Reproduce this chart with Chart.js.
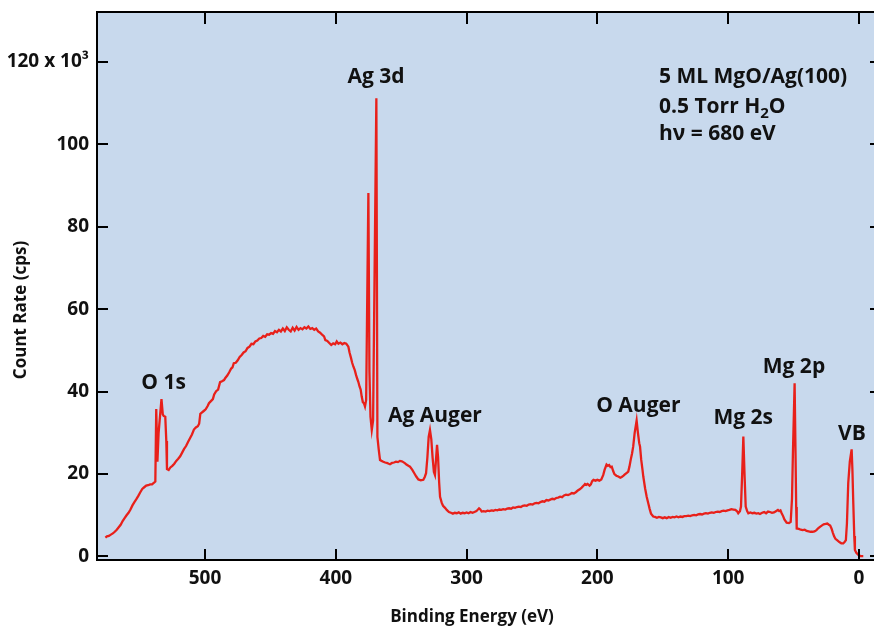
<!DOCTYPE html>
<html><head><meta charset="utf-8">
<script src="https://cdn.jsdelivr.net/npm/chart.js@4/dist/chart.umd.min.js"></script>
<style>html,body{margin:0;padding:0;background:#fff}#wrap{width:874px;height:628px;position:relative}</style>
</head><body><div id="wrap"><canvas id="c" width="874" height="628"></canvas></div>
<script>
// Binding energy (eV) and count rate (x10^3 cps)
const bindingEnergy = [
576.2,575,573.5,572,570.5,569,567.5,566,564.5,563,561.5,560,558.5,557,555.5,554,552.5,551,549.5,548,546.5,545,543.5,542,540.5,539,538,
537.3,536.4,535.5,533.3,532.3,531.6,530.4,529.6,529.1,527.8,
526.5,525,523.5,522,520.5,519,517.5,516,514.5,513,511.5,510,508.5,507,505.5,504.5,503.6,502.5,501,499.5,498,497,495.5,494,493,491.5,490,488.5,487,485.5,484.5,483,481.5,480,479,478,476.5,475,473.5,472,470.5,469,467.5,466,464.5,463,461.5,460,458.5,457,455.5,454,452.5,451,449.5,448,446.5,445,443.5,442,440.5,439,437.5,436,434.5,433,431.5,430,428.5,427,425.5,424,422.5,421,419.5,418,416.5,415,413.5,412,410.5,409,408,406.5,405,403.5,402,400.5,399.3,398,396.5,395,393.5,392,390.4,
389.5,388.5,387.5,386.6,385.5,384.5,383.5,382.8,381.8,381,380.2,379.3,378.5,377.7,376.8,375.1,374.3,373.5,372.5,371.5,369,368.2,367.2,366.2,
365,363.7,362.3,361,359.5,358.6,357,355.5,354,352.5,351,349.5,348.4,347,346,344.5,343.3,341.5,340,338.5,336.9,335,333.1,332,331,330,329,328,327,326,325,324.2,323.5,322.6,321.8,321,320.3,319,318,316.5,315.2,313.5,312,310.5,309,307.5,306,304.5,303,301.5,300,298.5,297,295.5,294,292.5,290.5,289.5,288.5,287,285.5,284,282.5,281,279.5,278,276.5,275,273.5,272,270.5,269,267.5,266,264.5,263,261.5,260,258.5,257,255.5,254,252.5,251,249.5,248,246.5,245,243.5,242,240.5,239,237.5,236,234.5,233,231.5,230,228.5,227,225.5,224,222.5,221,219.5,218,216.5,215,213.5,212,210.5,209.5,208.5,207.5,206,205,204,203,201.5,200,198.5,197,195.5,194.5,193,192,191,190,189,188,187,185.5,184,182.5,181.4,180,179,177.5,176.4,175.5,174.5,173.5,172.6,171.5,170,169,168,167.4,166.5,165.5,164.9,163.5,162.3,161,160,159,157.3,156,154.5,153,151.5,150,148.5,147,145.5,144,142.5,141,139.5,138,136.5,135,133.5,132,130.5,129,127.5,126,124.5,123,121.5,120,118.5,117,115.5,114,112.5,111,109.5,108,106.5,105,103.5,102,100.5,99,97.5,96,94.5,93,92.3,91,90.2,89.3,88.4,87.5,86.6,85.5,84.6,83,81.5,80,78.5,77,75.7,74,72.5,71,69.5,68,66.5,65,63.5,62,61,60,59.1,58,57,55.3,53.5,52.2,51.2,50.5,49.2,48.5,48,47.6,46,44.5,43,41.5,40,38.5,37,35.5,34,32.5,31,29.8,28.5,27,25.5,24.2,23,22,21,20,19,18,16.5,15,13.5,12,11,10,9.2,8.2,7,5.6,5,4.4,3.6,3.1,2,0.5,-1,-3.3
];
const countRate = [
4.6,4.9,5.0,5.3,5.6,6.0,6.5,7.1,7.7,8.6,9.3,10.0,10.6,11.4,12.4,13.2,13.9,14.7,15.6,16.4,16.8,17.2,17.3,17.5,17.5,17.9,18.2,
35.8,23.0,30.0,38.2,34.5,34.1,33.9,28.0,21.2,21.0,
21.6,22.0,22.5,23.2,23.7,24.3,25.2,26.1,26.8,27.8,28.7,29.6,30.8,31.3,31.6,32.2,34.6,34.9,35.3,35.7,36.5,37.2,37.7,38.2,39.3,40.1,40.5,42.3,42.5,42.8,43.3,43.9,44.7,45.6,45.9,46.9,47.0,47.6,48.4,48.9,49.5,49.8,50.6,50.9,51.6,51.5,52.2,52.4,52.9,53.0,53.5,53.3,53.9,53.8,54.2,54.0,54.7,54.4,55.0,54.6,55.3,54.7,55.6,55.0,54.6,55.5,54.8,55.7,55.0,55.4,55.1,55.6,55.3,55.8,55.2,55.4,55.0,55.3,54.6,54.3,53.8,53.4,52.5,52.3,51.8,51.3,51.7,51.5,52.2,51.6,51.9,51.5,51.8,51.6,50.9,
49.5,48.3,47.0,46.1,45.2,44.0,43.0,42.4,41.2,40.5,38.8,37.4,37.2,36.4,38.0,88.2,45.0,33.9,30.7,33.0,111.2,29.0,26.0,23.4,
23.2,23.0,22.8,22.7,22.5,22.4,22.7,22.8,23.0,22.9,23.2,23.1,22.9,22.6,22.3,22.0,21.8,21.0,20.2,19.4,18.7,18.5,18.6,19.3,20.2,24.0,29.0,30.7,28.5,24.0,20.5,19.8,23.0,27.1,24.0,18.0,14.5,13.0,12.3,11.8,11.3,10.8,10.6,10.4,10.6,10.5,10.7,10.4,10.6,10.5,10.7,10.5,10.8,10.6,10.8,11.0,11.7,11.4,10.9,11.0,10.9,11.1,11.0,11.2,11.1,11.3,11.2,11.4,11.3,11.5,11.4,11.6,11.7,11.6,11.9,11.8,12.0,12.1,12.0,12.3,12.4,12.3,12.6,12.7,12.6,12.9,13.0,12.9,13.2,13.4,13.3,13.7,13.6,13.8,14.0,13.9,14.2,14.3,14.5,14.4,14.8,15.0,14.9,15.1,15.4,15.3,15.6,16.0,16.3,16.7,17.2,17.6,17.4,17.6,17.2,17.5,18.3,18.6,18.4,18.6,18.4,18.7,19.8,21.0,22.3,22.0,22.2,21.7,21.8,20.8,20.0,19.6,19.4,19.1,19.3,19.6,19.9,20.3,20.6,21.8,23.5,25.0,26.7,30.0,33.0,30.0,27.5,26.7,23.5,21.0,19.4,16.5,14.5,12.8,11.5,10.4,9.7,9.6,9.4,9.6,9.5,9.3,9.5,9.3,9.6,9.4,9.6,9.5,9.7,9.5,9.7,9.6,9.8,9.8,9.9,9.8,10.0,10.1,10.0,10.2,10.3,10.2,10.4,10.5,10.4,10.6,10.7,10.6,10.8,10.9,10.8,11.0,11.1,11.0,11.2,11.3,11.5,11.4,11.3,10.9,10.5,11.0,12.1,20.0,29.1,20.0,12.1,11.0,10.5,10.7,10.5,10.6,10.4,10.5,10.3,10.6,10.8,10.5,10.9,10.8,10.6,10.7,11.0,11.3,11.0,11.2,10.5,9.8,9.0,8.2,8.1,8.4,14.0,25.0,42.0,25.0,12.0,6.8,6.7,6.5,6.4,6.5,6.2,6.1,6.0,6.0,6.1,6.4,6.9,7.2,7.5,7.8,7.9,8.0,7.7,7.5,6.8,5.8,4.9,4.3,3.9,3.5,3.2,3.2,3.5,4.0,8.0,17.8,23.0,26.0,21.0,13.7,5.0,1.6,0.9,0.4,0.1,0.1
];
const xTickValues = [500, 400, 300, 200, 100, 0];
const yTickValues = [0, 20, 40, 60, 80, 100, 120];
const yTickLabels = ['0', '20', '40', '60', '80', '100', '120 x 10\u00B3'];
const peakNames = ['O 1s', 'Ag 3d', 'Ag Auger', 'O Auger', 'Mg 2s', 'Mg 2p', 'VB'];
const infoLines = ['5 ML MgO/Ag(100)', '0.5 Torr H|2|O', 'h\u03BD = 680 eV'];
const xTitle = 'Binding Energy (eV)';
const yTitle = 'Count Rate (cps)';

// label anchors in data coordinates (energy, count) — layout only
const peakAnchors = [[531.7,40.6],[369.3,114.8],[324.2,32.7],[168.7,35.1],[88.5,32.1],[49.7,44.6],[5.4,28.3]];
const infoAnchor = [152.9, [114.8, 107.7, 101.1]];

const FONT = '"Open Sans", "Liberation Sans", sans-serif';
const BG = 'rgb(200,217,237)';

const deco = {
  id: 'deco',
  beforeDraw(chart) {
    const {ctx, chartArea: a} = chart;
    ctx.save();
    ctx.fillStyle = '#fff';
    ctx.fillRect(0, 0, chart.width, chart.height);
    ctx.fillStyle = BG;
    ctx.fillRect(a.left, a.top, a.right - a.left, a.bottom - a.top);
    ctx.restore();
  },
  afterDraw(chart) {
    const {ctx, chartArea: a, scales: {x, y}} = chart;
    ctx.save();
    ctx.strokeStyle = '#000';
    ctx.lineWidth = 2;
    ctx.beginPath(); ctx.moveTo(a.left - 1, a.top); ctx.lineTo(a.right, a.top); ctx.stroke();
    ctx.beginPath();
    xTickValues.forEach(v => {
      const px = Math.round(x.getPixelForValue(v));
      ctx.moveTo(px, a.bottom); ctx.lineTo(px, a.bottom - 11);
      ctx.moveTo(px, a.top); ctx.lineTo(px, a.top + 12);
    });
    yTickValues.forEach(v => {
      const py = Math.round(y.getPixelForValue(v));
      ctx.moveTo(a.left, py); ctx.lineTo(a.left + 11, py);
      ctx.moveTo(a.right, py); ctx.lineTo(a.right - 4, py);
    });
    ctx.stroke();

    ctx.fillStyle = '#111';
    ctx.textBaseline = 'alphabetic';
    ctx.font = 'bold 21px ' + FONT;
    ctx.textAlign = 'center';
    peakNames.forEach((t, i) => {
      ctx.fillText(t, x.getPixelForValue(peakAnchors[i][0]), y.getPixelForValue(peakAnchors[i][1]));
    });
    ctx.textAlign = 'left';
    const lx = x.getPixelForValue(infoAnchor[0]);
    infoLines.forEach((t, i) => {
      const by = y.getPixelForValue(infoAnchor[1][i]);
      const parts = t.split('|');
      let cx = lx;
      parts.forEach((p, j) => {
        if (j % 2 === 1) {
          ctx.font = 'bold 15px ' + FONT;
          ctx.fillText(p, cx, by + 5);
        } else {
          ctx.font = 'bold 21px ' + FONT;
          ctx.fillText(p, cx, by);
        }
        cx += ctx.measureText(p).width;
      });
    });
    ctx.font = 'bold 17px ' + FONT;
    ctx.textAlign = 'center';
    ctx.textBaseline = 'middle';
    ctx.fillText(xTitle, 472, 617);
    ctx.translate(21, 310);
    ctx.rotate(-Math.PI / 2);
    ctx.fillText(yTitle, 0, 0);
    ctx.restore();
  }
};

new Chart(document.getElementById('c'), {
  type: 'line',
  data: {
    datasets: [{
      data: bindingEnergy.map((e, i) => ({x: e, y: countRate[i]})),
      borderColor: 'rgb(232,32,26)',
      borderWidth: 2.3,
      pointRadius: 0,
      tension: 0,
      fill: false
    }]
  },
  options: {
    responsive: false,
    animation: false,
    devicePixelRatio: 1,
    layout: {padding: {top: 12, right: 0, left: 0, bottom: 0}},
    plugins: {legend: {display: false}, tooltip: {enabled: false}, title: {display: false}},
    scales: {
      x: {
        type: 'linear', reverse: true, min: -11.5, max: 582.6,
        afterBuildTicks: s => { s.ticks = xTickValues.map(v => ({value: v})); },
        afterFit: s => { s.height = 68; s.paddingLeft = 0; s.paddingRight = 0; },
        grid: {display: false, drawTicks: false},
        border: {display: true, color: '#000', width: 2},
        ticks: {color: '#111', font: {family: FONT, size: 19, weight: 'bold'}, padding: 7, maxRotation: 0, autoSkip: false}
      },
      y: {
        type: 'linear', min: -0.85, max: 132.1,
        afterBuildTicks: s => { s.ticks = yTickValues.map(v => ({value: v})); },
        afterFit: s => { s.width = 97; s.paddingTop = 0; s.paddingBottom = 0; },
        grid: {display: false, drawTicks: false},
        border: {display: true, color: '#000', width: 2},
        ticks: {
          color: '#111', font: {family: FONT, size: 19, weight: 'bold'}, padding: 8, autoSkip: false,
          callback: (v) => { const i = yTickValues.indexOf(v); return i >= 0 ? yTickLabels[i] : ''; }
        }
      }
    }
  },
  plugins: [deco]
});
</script>
</body></html>
